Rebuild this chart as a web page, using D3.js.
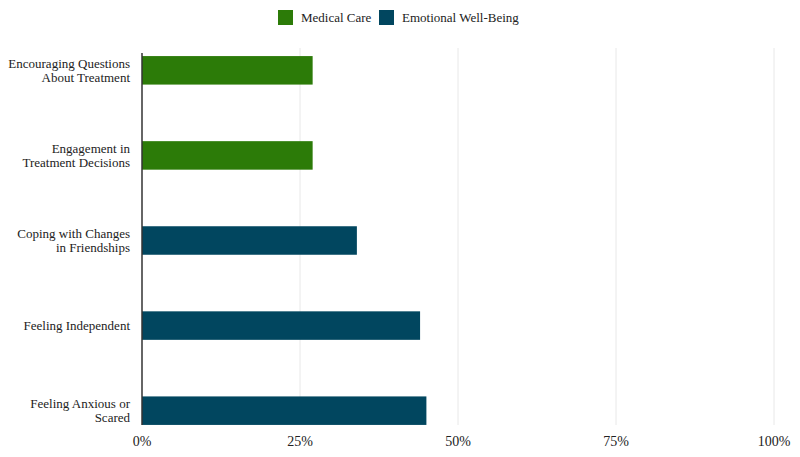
<!DOCTYPE html>
<html>
<head>
<meta charset="utf-8">
<script src="https://cdn.jsdelivr.net/npm/d3@7"></script>
<style>
    body { margin: 0; background: #fff; }
    text { font-family: "Liberation Serif", "DejaVu Serif", serif; fill: #222; }
</style>
</head>
<body>
<script>
    // data
    var categories = [
        ["Encouraging Questions", "About Treatment"],
        ["Engagement in", "Treatment Decisions"],
        ["Coping with Changes", "in Friendships"],
        ["Feeling Independent"],
        ["Feeling Anxious or", "Scared"]
    ];
    var values = [0.27, 0.27, 0.34, 0.44, 0.45];
    var groups = ["Medical Care", "Medical Care", "Emotional Well-Being", "Emotional Well-Being", "Emotional Well-Being"];
    var seriesNames = ["Medical Care", "Emotional Well-Being"];
    var tickValues = [0, 0.25, 0.5, 0.75, 1];

    var width = 800, height = 457;
    var plotLeft = 142, plotRight = 774, plotTop = 53, plotBottom = 425;

    var svg = d3.select("body").append("svg")
        .attr("width", width)
        .attr("height", height);

    var x = d3.scaleLinear().domain([0, 1]).range([plotLeft, plotRight]);
    var y = d3.scaleBand()
        .domain(d3.range(categories.length))
        .range([28, 453])
        .paddingInner(0.665)
        .paddingOuter(0.33);
    var color = d3.scaleOrdinal().domain(seriesNames).range(["#2c7b08", "#01465f"]);

    // gridlines
    svg.append("g").selectAll("line")
        .data(tickValues.slice(1))
        .join("line")
        .attr("x1", d => x(d)).attr("x2", d => x(d))
        .attr("y1", plotTop - 5).attr("y2", plotBottom)
        .attr("stroke", "#e8e8e8")
        .attr("stroke-width", 1);

    // bars
    svg.append("g").selectAll("rect")
        .data(values)
        .join("rect")
        .attr("x", x(0))
        .attr("y", (d, i) => y(i))
        .attr("width", d => x(d) - x(0))
        .attr("height", y.bandwidth())
        .attr("fill", (d, i) => color(groups[i]));

    // axis line
    svg.append("line")
        .attr("x1", x(0)).attr("x2", x(0))
        .attr("y1", plotTop).attr("y2", plotBottom)
        .attr("stroke", "#333")
        .attr("stroke-width", 1.5);

    // x tick labels
    svg.append("g").selectAll("text")
        .data(tickValues)
        .join("text")
        .attr("x", d => x(d))
        .attr("y", 446)
        .attr("text-anchor", "middle")
        .style("font-size", "14px")
        .text(d3.format(".0%"));

    // y labels
    var lab = svg.append("g").selectAll("text")
        .data(categories)
        .join("text")
        .attr("text-anchor", "end")
        .style("font-size", "13px")
        .attr("transform", (d, i) => "translate(130," + (y(i) + y.bandwidth() / 2) + ")");
    lab.selectAll("tspan")
        .data(d => d.map((t, j) => ({ t: t, j: j, n: d.length })))
        .join("tspan")
        .attr("x", 0)
        .attr("y", d => (d.j - (d.n - 1) / 2) * 14.5)
        .attr("dy", "0.35em")
        .text(d => d.t);

    // legend
    var legendX = [278, 379];
    var leg = svg.append("g").selectAll("g")
        .data(seriesNames)
        .join("g")
        .attr("transform", (d, i) => "translate(" + legendX[i] + ",10)");
    leg.append("rect")
        .attr("width", 15).attr("height", 15)
        .attr("fill", d => color(d));
    leg.append("text")
        .attr("x", 23).attr("y", 7.5)
        .attr("dy", "0.35em")
        .style("font-size", "13px")
        .text(d => d);
</script>
</body>
</html>
